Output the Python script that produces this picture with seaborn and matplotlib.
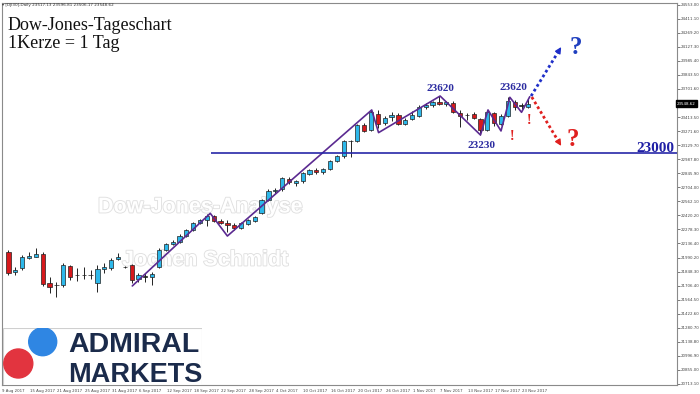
import numpy as np
import pandas as pd
import matplotlib
matplotlib.use('Agg')
import matplotlib.pyplot as plt
import matplotlib.patheffects as pe
from matplotlib.patches import Circle, Rectangle
from matplotlib import transforms
import seaborn as sns

# daily candles, 9 Aug 2017 .. 23 Nov 2017
opens = [22049, 21844, 21881, 21982, 21999, 22026, 21729, 21712, 21712, 21905,
         21812, 21810, 21812, 21729, 21871, 21882, 21972, 21891, 21915, 21770,
         21796, 21796, 21891, 22067, 22127, 22151, 22209, 22269, 22337, 22371,
         22411, 22364, 22343, 22320, 22287, 22330, 22364, 22440, 22570, 22662,
         22680, 22790, 22745, 22765, 22840, 22880, 22855, 22890, 22970, 23020,
         23168, 23170, 23335, 23280, 23445, 23350, 23410, 23430, 23345, 23390,
         23425, 23515, 23535, 23570, 23545, 23560, 23452, 23435, 23442, 23390,
         23285, 23460, 23345, 23425, 23570, 23530, 23517.13]
highs = [22066, 21897, 22016, 22049, 22084, 22046, 21793, 21745, 21935, 21915,
         21881, 21897, 21865, 21915, 21932, 21986, 22033, 21900, 21925, 21837,
         21830, 21847, 22087, 22138, 22168, 22225, 22280, 22355, 22385, 22432,
         22425, 22385, 22371, 22335, 22355, 22385, 22415, 22580, 22680, 22690,
         22810, 22805, 22780, 22855, 22890, 22895, 22900, 22980, 23030, 23180,
         23185, 23340, 23350, 23490, 23485, 23420, 23470, 23450, 23400, 23480,
         23535, 23560, 23580, 23625, 23580, 23575, 23486, 23460, 23470, 23400,
         23490, 23470, 23440, 23615, 23590, 23560, 23596.81]
lows = [21813, 21813, 21864, 21972, 21992, 21702, 21633, 21593, 21692, 21763,
        21755, 21770, 21770, 21644, 21836, 21864, 21965, 21885, 21729, 21745,
        21745, 21712, 21884, 22057, 22117, 22140, 22200, 22260, 22325, 22310,
        22350, 22330, 22252, 22270, 22275, 22320, 22355, 22430, 22560, 22640,
        22665, 22740, 22720, 22750, 22830, 22835, 22840, 22880, 22960, 23000,
        23005, 23160, 23260, 23270, 23300, 23330, 23370, 23330, 23330, 23380,
        23415, 23500, 23520, 23540, 23530, 23450, 23310, 23380, 23390, 23235,
        23275, 23320, 23330, 23415, 23490, 23500, 23506.17]
closes = [21830, 21864, 21999, 22006, 22023, 21722, 21688, 21715, 21915, 21796,
          21810, 21812, 21810, 21871, 21894, 21965, 21992, 21893, 21763, 21813,
          21798, 21823, 22067, 22125, 22151, 22209, 22269, 22343, 22371, 22411,
          22364, 22343, 22320, 22287, 22343, 22371, 22404, 22570, 22660, 22678,
          22795, 22760, 22770, 22845, 22880, 22855, 22888, 22970, 23015, 23170,
          23172, 23330, 23275, 23470, 23345, 23405, 23430, 23345, 23385, 23430,
          23520, 23540, 23565, 23550, 23565, 23465, 23428, 23432, 23401, 23280,
          23470, 23350, 23425, 23580, 23513, 23532, 23548.62]

date_labels = ['9 Aug 2017', '15 Aug 2017', '21 Aug 2017', '25 Aug 2017', '31 Aug 2017',
               '6 Sep 2017', '12 Sep 2017', '18 Sep 2017', '22 Sep 2017', '28 Sep 2017',
               '4 Oct 2017', '10 Oct 2017', '16 Oct 2017', '20 Oct 2017', '26 Oct 2017',
               '1 Nov 2017', '7 Nov 2017', '13 Nov 2017', '17 Nov 2017', '23 Nov 2017']
date_bars = list(range(0, 77, 4))

y_labels = ['24553.00', '24411.10', '24269.20', '24127.30', '23985.40', '23843.50',
            '23701.60', '23413.50', '23271.60', '23129.70', '22987.80', '22845.90',
            '22704.00', '22562.10', '22420.20', '22278.30', '22136.40', '21990.20',
            '21848.30', '21706.40', '21564.50', '21422.60', '21280.70', '21138.80',
            '20996.90', '20855.00', '20713.10']

# hand drawn zigzag (bar position, price)
zz_bar = [18.1, 29.5, 32.0, 53.1, 54.1, 63.1, 69.0, 70.1, 72.0, 73.3, 75.0, 76.2]
zz_price = [21702, 22438, 22208, 23486, 23256, 23627, 23232, 23486, 23273, 23614, 23462, 23620]

level = 23045
level_text = '23000'
last_price = 23548.62

sns.set_style('white')
plt.rcParams['font.family'] = ['DejaVu Sans']

W, H = 700, 394
fig = plt.figure(figsize=(7, 3.94), dpi=100)


def fx(px):
    return px / W


def fy(py):
    return 1 - py / H


ax = fig.add_axes([fx(2), fy(385), fx(677 - 2), (385 - 3) / H])
xmin, xmax = -0.95, 97.73
ax.set_xlim(xmin, xmax)
ax.set_ylim(20698, 24570)

df = pd.DataFrame({'o': opens, 'h': highs, 'l': lows, 'c': closes})
df['i'] = np.arange(len(df))
body = df.c - df.o
cols = np.where(body.abs() < 6, '#111111', np.where(body > 0, '#2db8ea', '#d7191c'))
ax.vlines(df.i, df.l, df.h, color='#222222', lw=0.7, zorder=2)
ax.bar(df.i, body, bottom=df.o, width=0.62, color=cols, edgecolor='#222222',
       linewidth=0.5, zorder=3)

# watermark
for txt, px, py in [('Dow-Jones-Analyse', 98, 207), ('Jochen Schmidt', 122, 260)]:
    ax.text(fx(px), fy(py), txt, transform=fig.transFigure, va='center', ha='left',
            fontsize=15.5, fontweight='bold', family='Liberation Sans', color='white',
            path_effects=[pe.withStroke(linewidth=1.3, foreground='#e0e0e0')], zorder=1)

# zigzag + level
sns.lineplot(x=zz_bar, y=zz_price, sort=False, estimator=None, color='#5b2a91',
             lw=1.2, ax=ax, zorder=4)
ax.hlines(level, 29.6, xmax, color='#2727a8', lw=1.2, zorder=4)
ax.text(97.4, level + 12, level_text, ha='right', va='baseline', fontsize=11,
        fontweight='bold', family='Liberation Serif', color='#1f1fa5', zorder=5)

serif = dict(family='Liberation Serif', fontweight='bold', ha='center', va='center', zorder=5)
ax.text(63.2, 23706, '23620', fontsize=8, color='#2b2ba0', **serif)
ax.text(73.8, 23716, '23620', fontsize=8, color='#2b2ba0', **serif)
ax.text(69.2, 23121, '23230', fontsize=8, color='#2b2ba0', **serif)
ax.text(73.6, 23215, '!', fontsize=10, color='#e0201f', **serif)
ax.text(76.1, 23384, '!', fontsize=10, color='#e0201f', **serif)

# scenario arrows
for (x0, y0, x1, y1, c) in [(76.4, 23627, 80.8, 24124, '#1f2fc8'),
                            (76.5, 23617, 80.8, 23121, '#e0201f')]:
    xa = x0 + (x1 - x0) * 0.9
    ya = y0 + (y1 - y0) * 0.9
    ax.plot([x0, xa], [y0, ya], ls=(0, (1, 1)), lw=2, color=c, zorder=5)
    ax.annotate('', xy=(x1, y1), xytext=(xa, ya),
                arrowprops=dict(arrowstyle='-|>', mutation_scale=9, color=c, lw=1,
                                shrinkA=0, shrinkB=0), zorder=5)
ax.text(82.96, 24124, '?', fontsize=18, color='#1f3fbf', **serif)
ax.text(82.5, 23182, '?', fontsize=18, color='#e0201f', **serif)

# axes styling
for s in ax.spines.values():
    s.set_color('#8a8a8a')
    s.set_linewidth(0.8)
ax.yaxis.tick_right()
ax.set_yticks([float(v) for v in y_labels])
ax.set_yticklabels(y_labels)
ax.tick_params(axis='y', labelsize=2.9, length=2, width=0.5, pad=1, colors='#444444')
ax.set_xticks(date_bars)
ax.set_xticklabels(date_labels)
ax.tick_params(axis='x', labelsize=2.8, length=2, width=0.5, pad=1.2, colors='#444444')
shift = transforms.ScaledTranslation(-0.06, 0, fig.dpi_scale_trans)
for lab in ax.get_xticklabels():
    lab.set_ha('left')
    lab.set_transform(lab.get_transform() + shift)
ax.set_xlabel('')
ax.set_ylabel('')
ax.text(1.0, last_price, f'{last_price:.2f}',
        transform=transforms.blended_transform_factory(ax.transAxes, ax.transData),
        ha='left', va='center', fontsize=2.9, color='white', zorder=6,
        bbox=dict(boxstyle='square,pad=0.35', fc='black', ec='black'))

# header
fig.text(fx(2), fy(5), '\u25be [DJI30],Daily 23517.13 23596.81 23506.17 23548.62',
         fontsize=3, va='center', color='#333333')
fig.text(fx(8), fy(25), 'Dow-Jones-Tageschart', fontsize=13, va='center',
         family='Liberation Serif', color='#111111')
fig.text(fx(8), fy(43), '1Kerze = 1 Tag', fontsize=13, va='center',
         family='Liberation Serif', color='#111111')

# logo
lax = fig.add_axes([fx(3), fy(385), fx(199), 57 / H])
lax.set_xlim(0, 199)
lax.set_ylim(57, 0)
lax.axis('off')
lax.add_patch(Rectangle((0, 0), 199, 57, fc='white', ec='#cfcfcf', lw=0.8))
lax.add_patch(Circle((39.7, 13.7), 14, color='#2f86e3'))
lax.add_patch(Circle((15.3, 35.5), 14.5, color='#e2343f'))
lax.text(65, 23.7, 'ADMIRAL', va='baseline', ha='left', fontsize=20.5, fontweight='bold',
         family='Liberation Sans', color='#1b2b4b')
lax.text(65, 54, 'MARKETS', va='baseline', ha='left', fontsize=19.5, fontweight='bold',
         family='Liberation Sans', color='#1b2b4b')

fig.savefig('out.png', dpi=100)
